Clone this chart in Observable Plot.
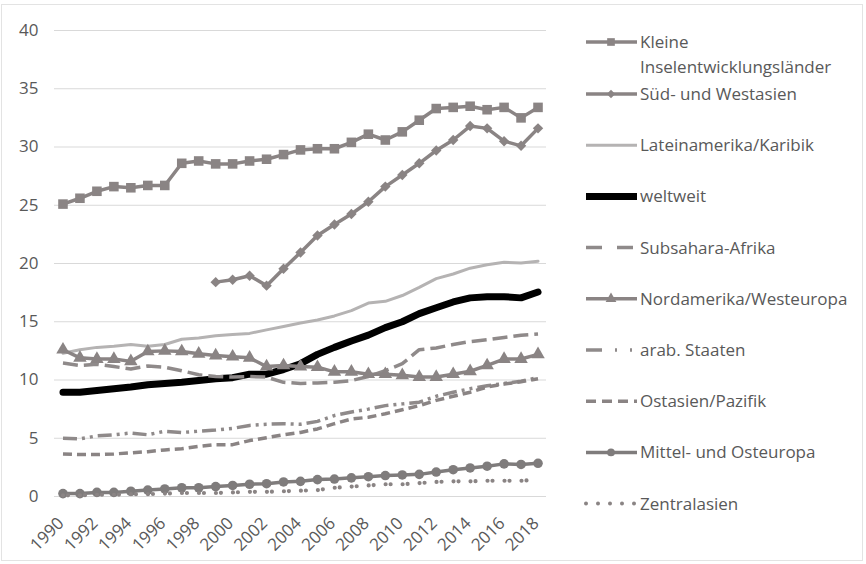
<!DOCTYPE html>
<html><head><meta charset="utf-8">
<script src="https://cdn.jsdelivr.net/npm/d3@7"></script>
<script src="https://cdn.jsdelivr.net/npm/@observablehq/plot@0.6"></script>
<style>
body{margin:0;background:#fff;}
#wrap{position:relative;width:866px;height:564px;overflow:hidden;font-family:"Open Sans",sans-serif;background:#fff;}
#frame{position:absolute;left:1px;top:4px;width:862px;height:557px;border:1px solid #e3e3e3;box-sizing:border-box;pointer-events:none}
#wrap svg{position:absolute;left:0;top:0;}
</style></head><body><div id="wrap"><div id="frame"></div></div>
<script>
const years = d3.range(1990, 2019);
const xTickLabels = [1990,1992,1994,1996,1998,2000,2002,2004,2006,2008,2010,2012,2014,2016,2018];
const yTicks = [0,5,10,15,20,25,30,35,40];

const seriesNames = ["Kleine Inselentwicklungsländer","Süd- und Westasien","Lateinamerika/Karibik","weltweit","Subsahara-Afrika","Nordamerika/Westeuropa","arab. Staaten","Ostasien/Pazifik","Mittel- und Osteuropa","Zentralasien"];

const kleine   = [25.1,25.6,26.2,26.6,26.5,26.7,26.7,28.6,28.8,28.55,28.55,28.8,28.95,29.35,29.75,29.85,29.85,30.4,31.1,30.6,31.3,32.3,33.3,33.4,33.5,33.2,33.4,32.5,33.4];
const sued     = [null,null,null,null,null,null,null,null,null,18.4,18.6,18.95,18.1,19.55,20.95,22.4,23.35,24.25,25.3,26.6,27.6,28.6,29.7,30.6,31.8,31.6,30.5,30.1,31.6];
const latein   = [12.3,12.6,12.8,12.9,13.05,12.9,13.05,13.5,13.6,13.8,13.9,14.0,14.3,14.6,14.9,15.15,15.5,15.95,16.6,16.75,17.25,17.95,18.7,19.1,19.6,19.9,20.1,20.05,20.2];
const weltweit = [8.95,8.95,9.1,9.25,9.4,9.6,9.7,9.8,9.95,10.1,10.2,10.5,10.5,10.9,11.4,12.2,12.8,13.35,13.85,14.5,15.0,15.7,16.2,16.7,17.05,17.15,17.15,17.05,17.55];
const subsahara= [11.45,11.25,11.35,11.15,10.95,11.2,11.1,10.8,10.45,10.3,10.25,10.3,10.25,9.8,9.7,9.75,9.8,9.95,10.3,10.8,11.4,12.6,12.75,13.05,13.3,13.45,13.65,13.85,13.95];
const nord     = [12.6,11.9,11.8,11.8,11.6,12.45,12.5,12.45,12.25,12.1,12.0,11.9,11.15,11.25,11.15,11.1,10.7,10.7,10.5,10.5,10.4,10.25,10.25,10.5,10.75,11.25,11.8,11.8,12.2];
const arab     = [5.0,4.95,5.2,5.3,5.45,5.3,5.6,5.5,5.6,5.7,5.85,6.1,6.2,6.25,6.2,6.45,6.95,7.25,7.5,7.8,7.95,8.1,8.6,8.95,9.25,9.5,9.7,9.9,10.2];
const ostasien = [3.65,3.6,3.6,3.65,3.75,3.85,4.0,4.1,4.3,4.45,4.45,4.8,5.05,5.3,5.5,5.8,6.25,6.65,6.8,7.1,7.45,7.8,8.25,8.6,8.95,9.4,9.65,9.85,10.1];
const mittel   = [0.25,0.25,0.35,0.35,0.45,0.55,0.65,0.75,0.75,0.85,0.95,1.05,1.1,1.25,1.3,1.45,1.5,1.6,1.7,1.8,1.85,1.9,2.1,2.3,2.45,2.6,2.8,2.75,2.85];
const zentral  = [0.1,0.1,0.15,0.15,0.2,0.2,0.25,0.3,0.3,0.3,0.35,0.4,0.4,0.45,0.5,0.55,0.75,0.85,0.95,1.05,1.05,1.15,1.25,1.3,1.3,1.35,1.35,1.35,1.45];

const values = [kleine,sued,latein,weltweit,subsahara,nord,arab,ostasien,mittel,zentral];

// styles
const styles = [
  {stroke:"#8a8484", width:3.5, dash:null, symbol:"square", r:5.4, fill:"#8a8484"},
  {stroke:"#8a8484", width:3.5, dash:null, symbol:"diamond2", r:4.7, fill:"#8a8484"},
  {stroke:"#b5b3b3", width:3, dash:null},
  {stroke:"#000000", width:7, dash:null},
  {stroke:"#8f8a8a", width:3.5, dash:"15 6"},
  {stroke:"#8a8484", width:3.5, dash:null, symbol:"triangle", r:5, fill:"#8a8484"},
  {stroke:"#8f8a8a", width:3.5, dash:"14 5 3 5 3 5"},
  {stroke:"#8a8484", width:3.5, dash:"9 5"},
  {stroke:"#7f7c7c", width:3.5, dash:null, symbol:"circle", r:4.8, fill:"#7f7c7c"},
  {stroke:"#8a8484", width:4.2, dash:"0 5 0 12", cap:"round"}
];
const legendDash = [null,null,null,null,"16 15",null,"16 13 2 13 2 13","10 6",null,"0 12"];

const marks = [Plot.gridY(yTicks, {stroke:"#d9d9d9", strokeOpacity:1, strokeWidth:1})];
seriesNames.forEach((name, i) => {
  const rows = years.map((year, j) => ({year, value: values[i][j], name}));
  const s = styles[i];
  marks.push(Plot.line(rows, {x:"year", y:"value", stroke:s.stroke, strokeWidth:s.width,
    strokeDasharray:s.dash ?? undefined, strokeLinecap: s.cap ?? (s.dash ? "butt" : "round"), strokeLinejoin:"round"}));
  if (s.symbol) {
    marks.push(Plot.dot(rows.filter(d => d.value != null), {x:"year", y:"value", symbol:()=>s.symbol, r:s.r, fill:s.fill, stroke:"none"}));
  }
});
marks.push(Plot.axisY({ticks:yTicks, tickSize:0, tickPadding:16, fontSize:17, label:null, tickFormat:d=>String(d)}));
marks.push(Plot.axisX({ticks:xTickLabels, tickSize:0, tickPadding:24, dx:-2, tickRotate:-45, fontSize:17, label:null, tickFormat:d=>String(d)}));

const chart = Plot.plot({
  width:866, height:564,
  marginLeft:54, marginRight:320, marginTop:30, marginBottom:68,
  x:{domain:[1989.5, 2018.5], label:null},
  y:{domain:[0,40], label:null},
  symbol:{type:"identity"},
  style:{fontFamily:"Open Sans, sans-serif", color:"#595959", background:"transparent", overflow:"visible"},
  marks
});
document.getElementById("wrap").appendChild(chart);

// legend
const leg = d3.select("#wrap").append("svg").attr("width",866).attr("height",564)
  .style("font-family","Open Sans, sans-serif");
const legendY = seriesNames.map((_, i) => i === 0 ? 42 : 94 + 51.2 * (i - 1));
const symbolMap = {square:d3.symbolSquare, diamond2:d3.symbolDiamond2, triangle:d3.symbolTriangle, circle:d3.symbolCircle};
seriesNames.forEach((name, i) => {
  const s = styles[i], y = legendY[i];
  const g = leg.append("g");
  g.append("line").attr("x1",586).attr("x2",637).attr("y1",y).attr("y2",y)
    .attr("stroke",s.stroke).attr("stroke-width", i===9 ? 4 : s.width)
    .attr("stroke-dasharray", legendDash[i])
    .attr("stroke-linecap", i===9 ? "round" : "butt");
  if (s.symbol) {
    g.append("path").attr("d", d3.symbol(symbolMap[s.symbol], Math.PI * (s.r*0.8) ** 2)())
      .attr("transform",`translate(611,${y})`).attr("fill",s.fill);
  }
  const t = g.append("text").attr("x",640).attr("y",y).attr("dy","0.35em")
    .attr("fill","#595959").attr("font-size",17);
  if (i === 0) {
    t.append("tspan").attr("x",640).text("Kleine");
    t.append("tspan").attr("x",640).attr("dy","1.45em").text("Inselentwicklungsländer");
  } else t.text(name);
});
</script></body></html>
